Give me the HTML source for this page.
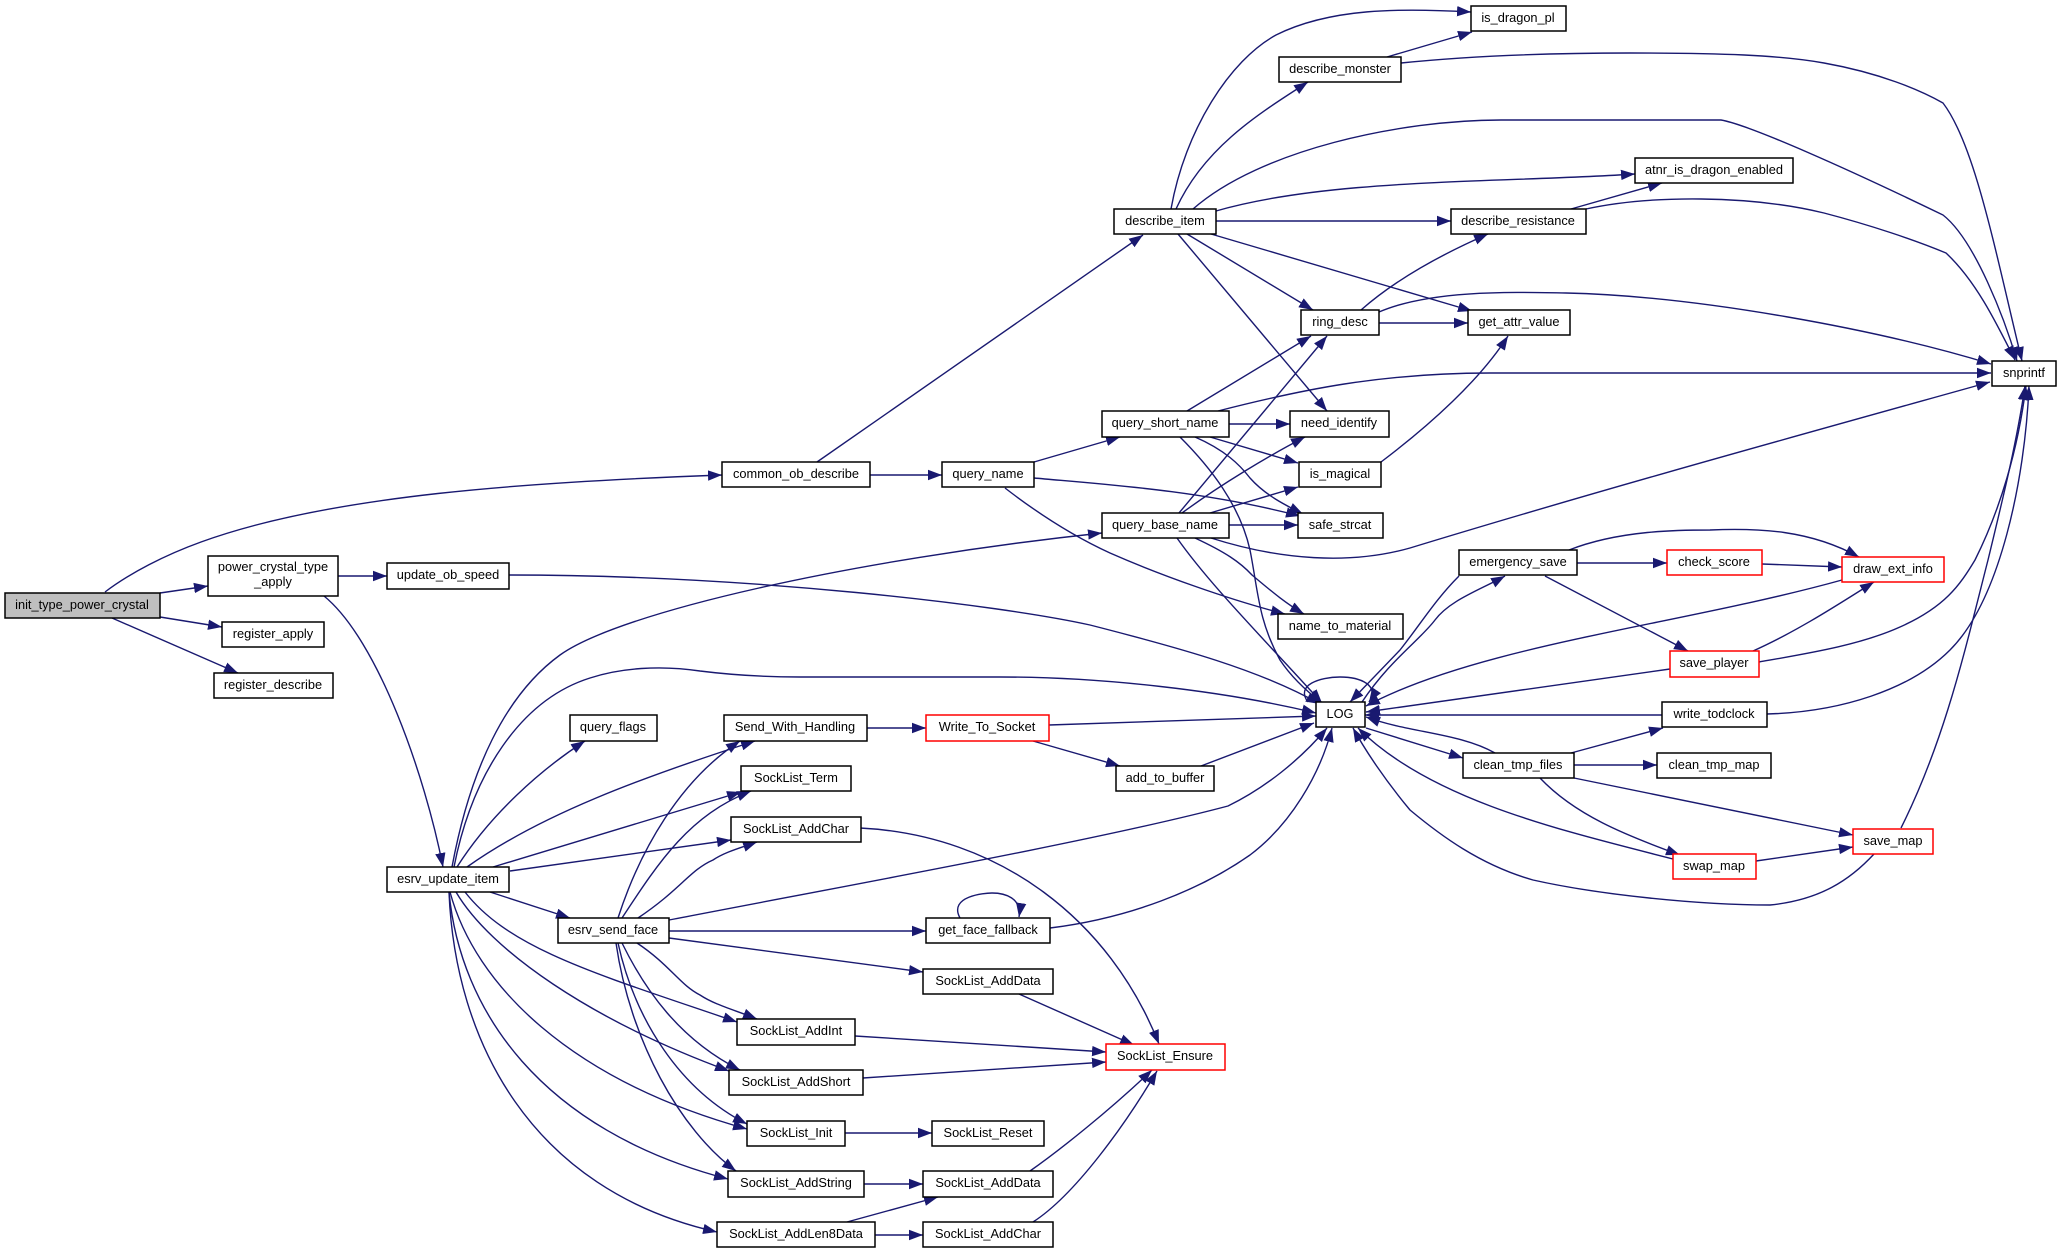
<!DOCTYPE html>
<html><head><meta charset="utf-8"><title>Call graph</title>
<style>
html,body{margin:0;padding:0;background:#fff}
svg{display:block}
.e path{fill:none;stroke:#191970;stroke-width:1.4;marker-end:url(#a)}
.n rect{fill:#fff;stroke:#000;stroke-width:1.5}
.n rect.r{stroke:#f00}
.n rect.g{fill:#bfbfbf}
.n text{font:12.8px "Liberation Sans",sans-serif;fill:#000;text-anchor:middle;transform:translateY(-0.8px)}
</style></head><body>
<svg xmlns="http://www.w3.org/2000/svg" width="2061" height="1253" viewBox="0 0 2061 1253">
<defs><marker id="a" markerUnits="userSpaceOnUse" markerWidth="15" markerHeight="12" refX="14" refY="5.5" orient="auto"><polygon points="0,0.3 14,5.5 0,10.7" fill="#191970"/></marker></defs>
<g class="e">
<path d="M105 592C130 573 165 555 201 542C330 495 530 482 722 475"/>
<path d="M160 593L208 586"/>
<path d="M160 617L222 627"/>
<path d="M112 618L238 673"/>
<path d="M338 576L387 576"/>
<path d="M324 596C378 640 425 775 443 867"/>
<path d="M509 575C750 575 1000 605 1090 625C1180 648 1260 670 1320 704"/>
<path d="M817 462L1143 235"/>
<path d="M870 475L942 475"/>
<path d="M1034 462L1120 437"/>
<path d="M1034 478C1100 484 1200 490 1300 516"/>
<path d="M1005 488C1040 515 1075 537 1110 553C1160 575 1230 600 1285 614"/>
<path d="M1187 411L1311 336"/>
<path d="M1218 411C1300 390 1380 373 1490 373L1991 373"/>
<path d="M1229 424L1290 424"/>
<path d="M1210 437L1298 463"/>
<path d="M1195 437C1225 450 1240 465 1250 478C1265 495 1285 505 1303 514"/>
<path d="M1180 437C1210 467 1240 505 1250 550C1258 590 1258 620 1280 660C1290 675 1305 690 1322 703"/>
<path d="M1179 513L1327 336"/>
<path d="M1182 513C1220 485 1270 455 1305 437"/>
<path d="M1210 513L1298 487"/>
<path d="M1229 525L1298 525"/>
<path d="M1211 538C1280 560 1350 565 1410 548C1600 490 1800 435 1990 382"/>
<path d="M1195 538C1225 552 1240 562 1252 575C1270 590 1285 603 1304 614"/>
<path d="M1177 538C1210 585 1265 640 1322 703"/>
<path d="M452 867C470 770 505 695 560 655C620 612 850 560 1102 533"/>
<path d="M454 867C472 775 520 700 590 678C620 668 660 665 700 671C740 676 770 677 800 677L1000 677C1100 677 1220 690 1316 713"/>
<path d="M457 867C490 815 540 770 585 741"/>
<path d="M467 867C540 815 640 778 755 741"/>
<path d="M493 867L741 792"/>
<path d="M510 871L731 840"/>
<path d="M490 892L570 918"/>
<path d="M465 892C510 950 600 975 737 1022"/>
<path d="M456 892C490 950 590 1020 729 1071"/>
<path d="M450 892C475 985 570 1080 747 1129"/>
<path d="M449 892C460 1010 540 1130 728 1179"/>
<path d="M449 892C455 1040 530 1190 717 1232"/>
<path d="M618 918C640 850 680 780 740 741"/>
<path d="M622 918C660 860 690 815 751 791"/>
<path d="M638 918C680 890 690 870 713 860C725 852 740 848 757 842"/>
<path d="M669 920C850 885 1100 840 1228 806C1265 788 1300 760 1327 728"/>
<path d="M669 931L926 931"/>
<path d="M669 938L923 972"/>
<path d="M637 943C670 965 680 985 700 995C715 1005 735 1010 757 1019"/>
<path d="M622 943C645 990 680 1040 740 1070"/>
<path d="M618 943C635 1020 680 1090 747 1124"/>
<path d="M616 943C630 1040 680 1130 736 1171"/>
<path d="M960 918C948 896 985 893 992 893C1005 893 1022 898 1019 917"/>
<path d="M1050 928C1130 918 1200 890 1250 855C1290 825 1320 775 1332 728"/>
<path d="M860 828C1000 835 1110 920 1159 1044"/>
<path d="M1019 994L1134 1045"/>
<path d="M855 1036L1106 1052"/>
<path d="M863 1078L1106 1062"/>
<path d="M845 1133L932 1133"/>
<path d="M864 1184L923 1184"/>
<path d="M847 1222L938 1197"/>
<path d="M875 1235L923 1235"/>
<path d="M1030 1171C1060 1150 1110 1110 1152 1070"/>
<path d="M1033 1222C1075 1195 1125 1125 1157 1071"/>
<path d="M867 728L926 728"/>
<path d="M1049 725L1316 716"/>
<path d="M1033 741L1120 766"/>
<path d="M1201 766L1314 723"/>
<path d="M1171 209C1185 130 1230 60 1276 35C1330 8 1400 8 1471 12"/>
<path d="M1176 209C1205 145 1265 110 1308 82"/>
<path d="M1193 209C1260 150 1400 120 1501 120L1721 120C1750 125 1850 170 1943 215C1975 240 2005 320 2017 361"/>
<path d="M1216 211C1330 178 1500 183 1635 174"/>
<path d="M1216 221L1451 221"/>
<path d="M1187 234L1313 310"/>
<path d="M1211 234L1472 311"/>
<path d="M1178 234L1327 411"/>
<path d="M1387 57L1472 32"/>
<path d="M1401 63C1480 55 1560 53 1630 53C1720 53 1780 55 1824 63C1880 73 1920 90 1943 103C1975 145 1995 250 2022 361"/>
<path d="M1571 209L1662 183"/>
<path d="M1586 209C1650 195 1750 195 1824 213C1870 225 1915 240 1946 253C1975 280 1995 320 2015 360"/>
<path d="M1361 310C1395 280 1440 255 1488 234"/>
<path d="M1379 312C1430 290 1510 292 1566 293C1700 296 1880 330 1991 364"/>
<path d="M1379 323L1468 323"/>
<path d="M1381 462C1430 425 1480 380 1508 336"/>
<path d="M1308 702C1295 685 1320 677 1340 677C1360 677 1380 685 1369 702"/>
<path d="M1459 576C1435 600 1420 625 1400 650L1350 702"/>
<path d="M1362 702C1390 660 1420 640 1435 620C1450 600 1480 590 1505 576"/>
<path d="M1366 728L1463 758"/>
<path d="M1495 753C1460 733 1410 733 1366 717"/>
<path d="M1577 563L1667 563"/>
<path d="M1569 550C1620 530 1680 530 1710 530C1760 528 1810 530 1859 557"/>
<path d="M1545 576L1688 651"/>
<path d="M1762 564L1842 567"/>
<path d="M1842 580C1680 625 1480 645 1366 706"/>
<path d="M1753 651C1800 630 1845 600 1874 582"/>
<path d="M1759 662C1810 653 1860 645 1900 627C1945 607 1960 585 1975 560C2000 510 2018 450 2026 386"/>
<path d="M1670 669L1366 712"/>
<path d="M1662 715L1365 715"/>
<path d="M1767 714C1840 712 1910 690 1950 650C2000 600 2025 480 2029 386"/>
<path d="M1571 753L1663 728"/>
<path d="M1574 765L1657 765"/>
<path d="M1540 778C1575 815 1625 835 1680 855"/>
<path d="M1574 778L1853 835"/>
<path d="M1673 859C1560 830 1430 800 1358 728"/>
<path d="M1756 861L1853 847"/>
<path d="M1901 828C1945 740 1965 650 1988 560C2005 490 2017 440 2025 386"/>
<path d="M1874 854C1850 880 1820 900 1770 905C1700 905 1600 895 1533 880C1480 865 1440 835 1410 810C1385 780 1365 750 1353 728"/>
</g>
<g class="n">
<rect class="g" x="5" y="593" width="155" height="25"/><text x="82" y="610">init_type_power_crystal</text>
<rect x="208" y="556" width="130" height="40"/><text x="273" y="572">power_crystal_type</text><text x="273" y="587">_apply</text>
<rect x="387" y="563" width="122" height="26"/><text x="448" y="580">update_ob_speed</text>
<rect x="222" y="622" width="102" height="25"/><text x="273" y="639">register_apply</text>
<rect x="214" y="673" width="119" height="25"/><text x="273" y="690">register_describe</text>
<rect x="570" y="715" width="87" height="26"/><text x="613" y="732">query_flags</text>
<rect x="722" y="462" width="148" height="25"/><text x="796" y="479">common_ob_describe</text>
<rect x="942" y="462" width="92" height="25"/><text x="988" y="479">query_name</text>
<rect x="724" y="715" width="143" height="26"/><text x="795" y="732">Send_With_Handling</text>
<rect class="r" x="926" y="715" width="123" height="26"/><text x="987" y="732">Write_To_Socket</text>
<rect x="741" y="766" width="110" height="25"/><text x="796" y="783">SockList_Term</text>
<rect x="731" y="817" width="130" height="25"/><text x="796" y="834">SockList_AddChar</text>
<rect x="387" y="867" width="122" height="25"/><text x="448" y="884">esrv_update_item</text>
<rect x="558" y="918" width="111" height="25"/><text x="613" y="935">esrv_send_face</text>
<rect x="926" y="918" width="124" height="25"/><text x="988" y="935">get_face_fallback</text>
<rect x="923" y="969" width="130" height="25"/><text x="988" y="986">SockList_AddData</text>
<rect x="737" y="1019" width="118" height="26"/><text x="796" y="1036">SockList_AddInt</text>
<rect class="r" x="1106" y="1044" width="119" height="26"/><text x="1165" y="1061">SockList_Ensure</text>
<rect x="729" y="1070" width="134" height="25"/><text x="796" y="1087">SockList_AddShort</text>
<rect x="747" y="1121" width="98" height="25"/><text x="796" y="1138">SockList_Init</text>
<rect x="932" y="1121" width="112" height="25"/><text x="988" y="1138">SockList_Reset</text>
<rect x="728" y="1171" width="136" height="26"/><text x="796" y="1188">SockList_AddString</text>
<rect x="923" y="1171" width="130" height="26"/><text x="988" y="1188">SockList_AddData</text>
<rect x="717" y="1222" width="158" height="25"/><text x="796" y="1239">SockList_AddLen8Data</text>
<rect x="923" y="1222" width="130" height="25"/><text x="988" y="1239">SockList_AddChar</text>
<rect x="1471" y="6" width="95" height="25"/><text x="1518" y="23">is_dragon_pl</text>
<rect x="1279" y="57" width="122" height="25"/><text x="1340" y="74">describe_monster</text>
<rect x="1635" y="158" width="158" height="25"/><text x="1714" y="175">atnr_is_dragon_enabled</text>
<rect x="1114" y="209" width="102" height="25"/><text x="1165" y="226">describe_item</text>
<rect x="1451" y="209" width="135" height="25"/><text x="1518" y="226">describe_resistance</text>
<rect x="1301" y="310" width="78" height="25"/><text x="1340" y="327">ring_desc</text>
<rect x="1468" y="310" width="102" height="25"/><text x="1519" y="327">get_attr_value</text>
<rect x="1992" y="361" width="64" height="25"/><text x="2024" y="378">snprintf</text>
<rect x="1102" y="411" width="127" height="26"/><text x="1165" y="428">query_short_name</text>
<rect x="1290" y="411" width="99" height="26"/><text x="1339" y="428">need_identify</text>
<rect x="1299" y="462" width="82" height="25"/><text x="1340" y="479">is_magical</text>
<rect x="1298" y="513" width="85" height="25"/><text x="1340" y="530">safe_strcat</text>
<rect x="1102" y="513" width="127" height="25"/><text x="1165" y="530">query_base_name</text>
<rect x="1278" y="614" width="125" height="25"/><text x="1340" y="631">name_to_material</text>
<rect x="1459" y="550" width="118" height="25"/><text x="1518" y="567">emergency_save</text>
<rect class="r" x="1667" y="550" width="95" height="25"/><text x="1714" y="567">check_score</text>
<rect class="r" x="1842" y="557" width="102" height="25"/><text x="1893" y="574">draw_ext_info</text>
<rect class="r" x="1670" y="651" width="89" height="26"/><text x="1714" y="668">save_player</text>
<rect x="1316" y="702" width="49" height="25"/><text x="1340" y="719">LOG</text>
<rect x="1662" y="702" width="105" height="25"/><text x="1714" y="719">write_todclock</text>
<rect x="1116" y="766" width="98" height="25"/><text x="1165" y="783">add_to_buffer</text>
<rect x="1463" y="753" width="111" height="25"/><text x="1518" y="770">clean_tmp_files</text>
<rect x="1657" y="753" width="114" height="25"/><text x="1714" y="770">clean_tmp_map</text>
<rect class="r" x="1853" y="829" width="80" height="25"/><text x="1893" y="846">save_map</text>
<rect class="r" x="1673" y="854" width="83" height="25"/><text x="1714" y="871">swap_map</text>
</g>
</svg>
</body></html>
